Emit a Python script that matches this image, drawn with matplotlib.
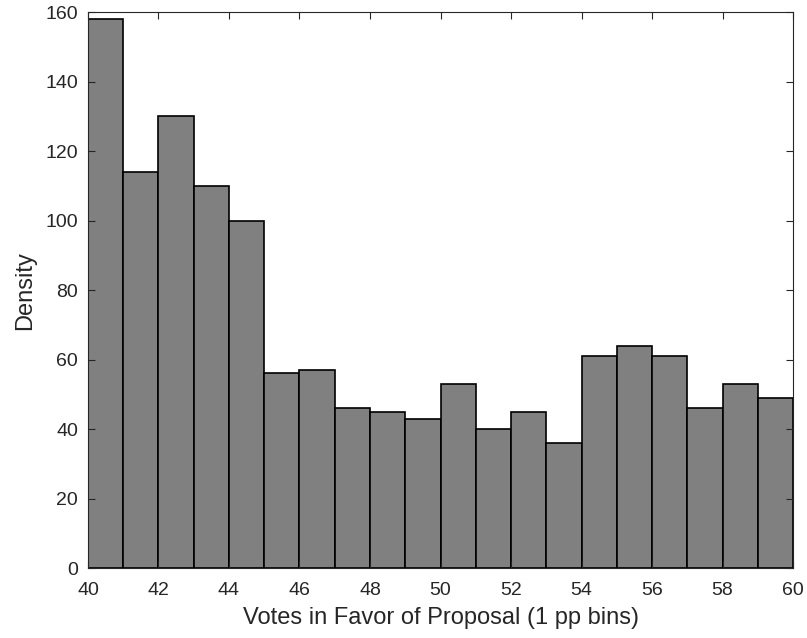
import numpy as np
import matplotlib
matplotlib.use("Agg")
import matplotlib.pyplot as plt

plt.rcParams["font.family"] = ["Liberation Sans", "DejaVu Sans"]

# 1 pp bins from 40 to 60
bin_edges = np.arange(40, 61, 1)
density = [158, 114, 130, 110, 100, 56, 57, 46, 45, 43,
           53, 40, 45, 36, 61, 64, 61, 46, 53, 49]

fig = plt.figure(figsize=(8.07, 6.38), dpi=100)
ax = fig.add_axes([0.109, 0.1097, 0.8737, 0.8713])

ax.bar(bin_edges[:-1], density, width=1, align="edge",
       color="#808080", edgecolor="black", linewidth=1.2)

ax.set_xlim(40, 60)
ax.set_ylim(0, 160)
ax.set_xticks(np.arange(40, 61, 2))
ax.set_yticks(np.arange(0, 161, 20))
ax.tick_params(direction="in", top=True, right=True, length=5,
               labelsize=14, color="#262626", labelcolor="#262626")
ax.tick_params(axis="x", pad=10)
ax.tick_params(axis="y", pad=7)
for s in ax.spines.values():
    s.set_color("#262626")
    s.set_linewidth(0.8)

ax.set_xlabel("Votes in Favor of Proposal (1 pp bins)", fontsize=17,
              color="#262626", labelpad=6)
ax.set_ylabel("Density", fontsize=17, color="#262626", labelpad=7)

fig.savefig("out.png", dpi=100)
